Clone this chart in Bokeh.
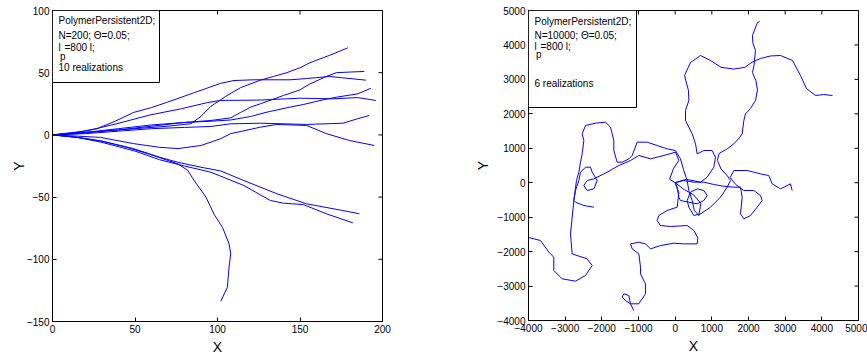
from bokeh.plotting import figure
from bokeh.models import Range1d, FixedTicker, BoxAnnotation, Label
from bokeh.layouts import row
from bokeh.embed import file_html
from bokeh.resources import INLINE

FONT = "Liberation Sans"
BLUE = "#0000ff"

# ---------------- N=200: ten chain conformations (x, y) ----------------
n200_run1 = [(0, 0), (15, 1), (30, 3), (50, 5), (70, 7), (84, 9), (90, 15), (96, 23), (105, 31), (114, 38),
             (126, 44), (134, 47), (142, 50), (150, 54), (156, 58), (168, 64), (179, 70)]
n200_run2 = [(0, 0), (20, 2), (40, 4), (60, 7), (80, 10), (96, 11.6), (108, 13.7), (114, 18), (120, 22.3),
             (126, 25), (140, 31.7), (150, 36.2), (156, 41), (166, 47), (172, 50), (180, 50.5), (189, 51)]
n200_run3 = [(0, 0), (14, 2), (27, 5), (38, 11), (49, 18), (60, 22), (69, 26), (86, 34), (102, 41.5),
             (110, 43.7), (122, 44.3), (144, 44.3), (154, 45.3), (168, 47), (175, 46), (190, 44)]
n200_run4 = [(0, 0), (20, 2), (40, 5), (60, 8), (80, 10), (96, 11), (108, 12), (120, 14.8), (130, 18.3),
             (142, 21.8), (152, 24.4), (164, 28.2), (172, 30.3), (185, 33), (193, 37.5)]
n200_run5 = [(0, 0), (20, 3), (39, 9), (59, 16), (78, 21), (94, 26), (102, 27.7), (126, 28), (150, 29.5),
             (170, 29), (185, 30), (196, 27.7)]
n200_run6 = [(0, 0), (20, 1), (40, 3), (60, 5), (80, 6), (96, 6.8), (108, 8.9), (126, 9.4), (154, 8.4),
             (176, 9.4), (185, 13), (192, 15.6)]
n200_run7 = [(0, 0), (15, -1), (29, -2), (49, -7), (65, -10), (76, -11), (90, -8.5), (96, -5.8), (102, -3),
             (108, 1), (126, 6.2), (136, 8.4), (154, 7.6), (166, 1), (180, -4.5), (195, -8.5)]
n200_run8 = [(0, 0), (15, -2), (30, -5), (49, -11), (65, -18), (76, -22), (90, -26), (102, -29),
             (116, -36.7), (136, -47.3), (154, -55.4), (176, -60.8), (186, -63.4)]
n200_run9 = [(0, 0), (15, -2), (30, -6), (50, -13), (65, -20), (80, -25), (96, -30), (116, -40.7),
             (132, -52.7), (140, -54.9), (152, -56), (166, -63.4), (182, -70.7)]
n200_run10 = [(0, 0), (15, -2), (30, -5), (45, -10), (60, -16), (76, -23.3), (82, -28.6), (86, -37),
              (93, -50), (98, -64), (103, -74.2), (107, -87.5), (108, -95.6), (107, -106.3),
              (106, -122.4), (102, -133.7)]

n200_xticks = [0, 50, 100, 150, 200]
n200_xlabels = ["0", "50", "100", "150", "200"]
n200_yticks = [-150, -100, -50, 0, 50, 100]
n200_ylabels = ["\u2212150", "\u2212100", "\u221250", "0", "50", "100"]
n200_info = ["PolymerPersistent2D;", "N=200; \u0398=0.05;", "=800 l;", "10 realizations"]

# ---------------- N=10000: six chain conformations (x, y) ----------------
n1e4_run1 = [(0, 0), (54, -130), (100, -420), (145, -517), (373, -565), (600, -614), (782, -517),
             (873, -372), (782, -226), (600, -178), (418, -275), (327, -517), (373, -710), (509, -952),
             (691, -904), (964, -710), (1236, -420), (1418, -130), (1509, 64), (1418, 209), (1250, 400),
             (1150, 650), (1200, 850), (1418, 983), (1600, 1129), (1750, 1300), (1827, 1419),
             (1873, 1806), (1918, 2000), (2050, 2150), (2191, 2387), (2245, 2700), (2200, 2968),
             (2108, 3200), (2150, 3403), (2190, 3839), (2120, 4050), (2108, 4274), (2245, 4652),
             (2300, 4680)]
n1e4_run2 = [(0, 0), (300, 100), (691, 16), (873, 161), (1054, 451), (1100, 741), (1009, 935), (782, 935),
             (600, 838), (555, 1129), (464, 1419), (373, 1613), (282, 1806), (282, 2097), (373, 2387),
             (363, 2677), (254, 3113), (418, 3490), (690, 3694), (963, 3549), (1250, 3350), (1600, 3300),
             (1900, 3350), (2100, 3500), (2330, 3607), (2600, 3680), (2872, 3694), (3200, 3549),
             (3418, 3113), (3581, 2736), (3827, 2532), (4050, 2560), (4290, 2532)]
n1e4_run3 = [(0, 0), (250, -200), (500, -350), (700, -600), (646, -952), (520, -800), (464, -517),
             (373, -226), (327, 64), (236, 354), (145, 693), (9, 935), (-218, 983), (-491, 1080),
             (-764, 1177), (-1036, 1177), (-1173, 790), (-1263, 693), (-1445, 596), (-1582, 596),
             (-1673, 935), (-1673, 1226), (-1718, 1419), (-1763, 1613), (-1900, 1758), (-2172, 1729),
             (-2445, 1661), (-2536, 1419), (-2491, 1226), (-2536, 838), (-2582, 596), (-2627, 306),
             (-2691, 64), (-2763, -517), (-2854, -1485), (-2809, -2066), (-2401, -2209),
             (-2264, -2403), (-2446, -2693), (-2719, -2858), (-3083, -2790), (-3310, -2548),
             (-3310, -2161), (-3446, -2016), (-3673, -1677), (-4000, -1590)]
n1e4_run4 = [(0, 0), (-150, 100), (-50, 400), (100, 650), (9, 887), (-309, 790), (-673, 693), (-991, 790),
             (-1218, 645), (-1536, 500), (-1854, 306), (-2218, 112), (-2400, 64), (-2491, -81),
             (-2400, -227), (-2218, -178), (-2127, 64), (-2263, 306), (-2309, 451), (-2445, 451),
             (-2582, 306), (-2627, 64), (-2718, -227), (-2763, -517), (-2718, -565), (-2491, -662),
             (-2218, -710)]
n1e4_run5 = [(0, 0), (100, -300), (54, -710), (-218, -807), (-446, -952), (-491, -1100), (-400, -1243),
             (-127, -1272), (327, -1243), (509, -1388), (620, -1600), (600, -1775), (236, -1775),
             (-36, -1756), (-400, -1824), (-673, -1921), (-809, -1775), (-991, -1727), (-1218, -1775),
             (-1173, -1921), (-991, -2066), (-945, -2453), (-946, -2645), (-810, -2935), (-810, -3225),
             (-992, -3516), (-1219, -3516), (-1355, -3419), (-1446, -3322), (-1401, -3225),
             (-1264, -3274), (-1219, -3516), (-1128, -3709)]
n1e4_run6 = [(0, 0), (236, 64), (509, 16), (782, 16), (1050, -50), (1300, -100), (1600, -130),
             (1782, -130), (1827, -420), (1782, -904), (1873, -1049), (2054, -952), (2236, -711),
             (2372, -517), (2327, -372), (2145, -227), (1873, -227), (1650, -50), (1500, 150),
             (1600, 354), (1963, 354), (2327, 257), (2554, 209), (2645, -33), (2872, -178), (3145, -33),
             (3191, -227)]

n1e4_ticks = [-4000, -3000, -2000, -1000, 0, 1000, 2000, 3000, 4000, 5000]
n1e4_labels = ["\u22124000", "\u22123000", "\u22122000", "\u22121000", "0", "1000", "2000", "3000",
               "4000", "5000"]
n1e4_info = ["PolymerPersistent2D;", "N=10000; \u0398=0.05;", "=800 l;", "6 realizations"]

TICK_LEN = 4  # px, ticks point into the plot box


def style_axis(ax, ticks, labels, label_gap):
    ax.ticker = FixedTicker(ticks=ticks)
    ax.major_label_overrides = {t: s for t, s in zip(ticks, labels)}
    ax.major_tick_in = TICK_LEN
    ax.major_tick_out = 0
    ax.minor_tick_line_color = None
    ax.axis_line_color = "black"
    ax.major_tick_line_color = "black"
    ax.major_label_text_font = FONT
    ax.major_label_text_font_size = "10px"
    ax.major_label_text_color = "black"
    ax.major_label_standoff = 3
    ax.axis_label_text_font = FONT
    ax.axis_label_text_font_size = "14px"
    ax.axis_label_text_font_style = "normal"
    ax.axis_label_text_color = "black"
    ax.axis_label_standoff = label_gap


def make_panel(runs, xr, yr, xt, xl, yt, yl, fw, fh, border, ylabel_gap, box_size, info, info_rows):
    left, right, top, bottom = border
    p = figure(frame_width=fw, frame_height=fh, x_range=Range1d(*xr), y_range=Range1d(*yr),
               output_backend="svg", toolbar_location=None,
               min_border_left=left, min_border_right=right,
               min_border_top=top, min_border_bottom=bottom)
    p.grid.visible = False
    p.outline_line_color = "black"
    p.outline_line_alpha = 1.0
    p.background_fill_color = "white"
    p.border_fill_color = "white"

    style_axis(p.xaxis[0], xt, xl, 3)
    style_axis(p.yaxis[0], yt, yl, ylabel_gap)
    p.xaxis[0].axis_label = "X"
    p.yaxis[0].axis_label = "Y"

    # tick marks on the top and right edges of the box (no labels there)
    ux = (xr[1] - xr[0]) / fw
    uy = (yr[1] - yr[0]) / fh
    p.segment(x0=xt, x1=xt, y0=[yr[1]] * len(xt), y1=[yr[1] - TICK_LEN * uy] * len(xt),
              line_color="black", line_width=1)
    p.segment(x0=[xr[1]] * len(yt), x1=[xr[1] - TICK_LEN * ux] * len(yt), y0=yt, y1=yt,
              line_color="black", line_width=1)

    for run in runs:
        xs = [pt[0] for pt in run]
        ys = [pt[1] for pt in run]
        p.line(xs, ys, line_color=BLUE, line_width=1)

    # pixel offsets from the frame's top-left corner -> data coordinates
    def to_data(dx, dy):
        return (xr[0] + dx * ux, yr[1] - dy * uy)

    bw, bh = box_size
    bx, by = to_data(bw, bh)
    p.add_layout(BoxAnnotation(left=xr[0], right=bx, top=yr[1], bottom=by,
                               fill_color="white", fill_alpha=1.0,
                               line_color="black", line_width=1, line_alpha=1.0))

    (r1, r2, r3, r4), sub_dy = info_rows
    rows = [(info[0], 6, r1), (info[1], 6, r2), ("l", 6, r3), (info[2], 12, r3), ("p", 7.5, sub_dy),
            (info[3], 6, r4)]
    for text, dx, dy in rows:
        tx, ty = to_data(dx, dy)
        p.add_layout(Label(x=tx, y=ty, text=text, text_font=FONT, text_font_size="10px",
                           text_color="black", text_baseline="middle", text_align="left"))
    return p


p1 = make_panel([n200_run1, n200_run2, n200_run3, n200_run4, n200_run5, n200_run6, n200_run7,
                 n200_run8, n200_run9, n200_run10],
                (0, 200), (-150, 100), n200_xticks, n200_xlabels, n200_yticks, n200_ylabels,
                330, 311, (52, 52, 10, 38), -3, (107, 72), n200_info, ((10, 25, 37, 57), 46))

p2 = make_panel([n1e4_run1, n1e4_run2, n1e4_run3, n1e4_run4, n1e4_run5, n1e4_run6],
                (-4000, 5000), (-4000, 5000), n1e4_ticks, n1e4_labels, n1e4_ticks, n1e4_labels,
                330, 310, (94, 9, 10, 39), 3, (108, 97), n1e4_info, ((11, 25, 36, 73), 44))

layout = row(p1, p2)
open("out.html", "w").write(file_html(layout, INLINE))
